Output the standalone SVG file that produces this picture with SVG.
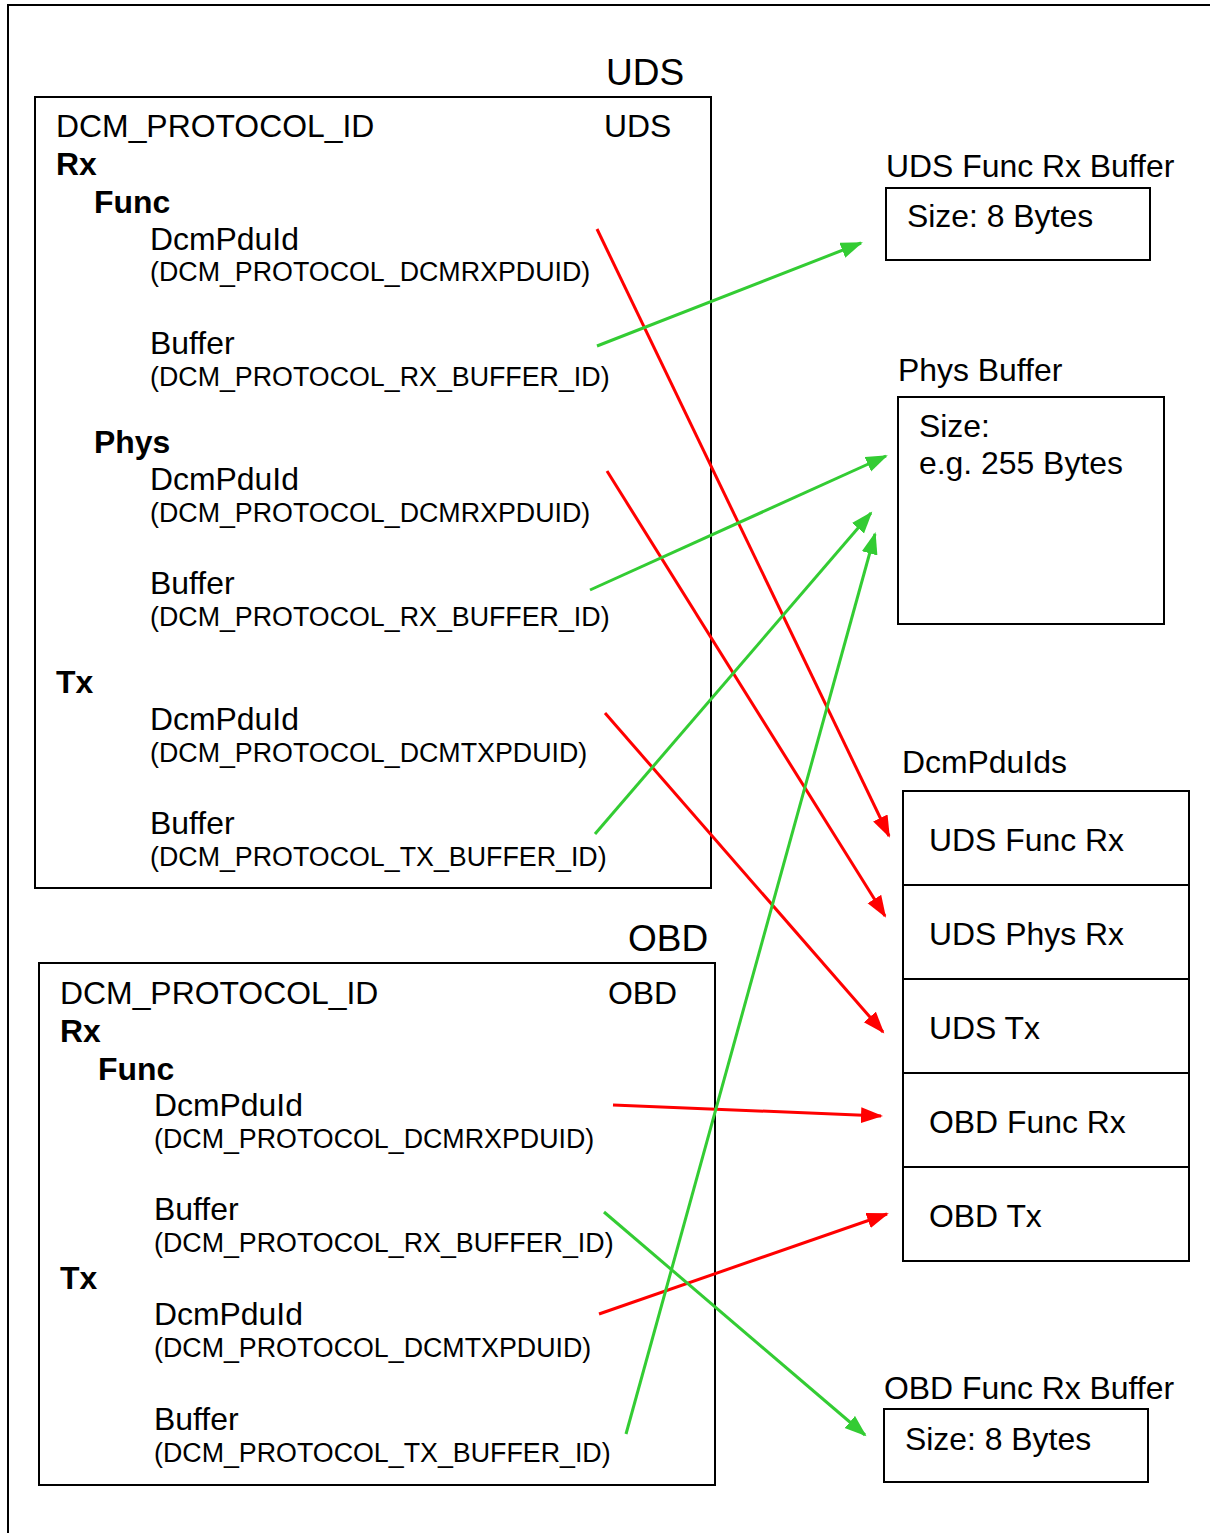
<svg xmlns="http://www.w3.org/2000/svg" width="1210" height="1533" viewBox="0 0 1210 1533">
<style>
text{font-family:"Liberation Sans",Arial,sans-serif;fill:#000}
.t{font-size:31.9px}
.b{font-size:31.9px;font-weight:bold}
.s{font-size:26.8px}
.h{font-size:37px}
.box{fill:#fff;stroke:#000;stroke-width:2}
.red{stroke:#ff0000;stroke-width:3;fill:none;marker-end:url(#ar)}
.grn{stroke:#33cc33;stroke-width:3;fill:none;marker-end:url(#ag)}
</style>
<defs>
<marker id="ar" markerUnits="userSpaceOnUse" markerWidth="24" markerHeight="18" refX="20" refY="8" orient="auto"><path d="M0,0 L22,8 L0,16 z" fill="#ff0000"/></marker>
<marker id="ag" markerUnits="userSpaceOnUse" markerWidth="24" markerHeight="18" refX="20" refY="8" orient="auto"><path d="M0,0 L22,8 L0,16 z" fill="#33cc33"/></marker>
</defs>
<rect width="1210" height="1533" fill="#fff"/>
<path d="M8,1533 V5 H1210" fill="none" stroke="#000" stroke-width="2"/>

<g id="uds">
<text class="h" x="606" y="85">UDS</text>
<rect class="box" x="35" y="97" width="676" height="791"/>
<text class="t" x="56" y="137">DCM_PROTOCOL_ID</text>
<text class="t" x="604" y="137">UDS</text>
<text class="b" x="56" y="175">Rx</text>
<text class="b" x="94" y="213">Func</text>
<text class="t" x="150" y="250">DcmPduId</text>
<text class="s" x="150" y="281">(DCM_PROTOCOL_DCMRXPDUID)</text>
<text class="t" x="150" y="354">Buffer</text>
<text class="s" x="150" y="386">(DCM_PROTOCOL_RX_BUFFER_ID)</text>
<text class="b" x="94" y="453">Phys</text>
<text class="t" x="150" y="490">DcmPduId</text>
<text class="s" x="150" y="522">(DCM_PROTOCOL_DCMRXPDUID)</text>
<text class="t" x="150" y="594">Buffer</text>
<text class="s" x="150" y="626">(DCM_PROTOCOL_RX_BUFFER_ID)</text>
<text class="b" x="56" y="693">Tx</text>
<text class="t" x="150" y="730">DcmPduId</text>
<text class="s" x="150" y="762">(DCM_PROTOCOL_DCMTXPDUID)</text>
<text class="t" x="150" y="834">Buffer</text>
<text class="s" x="150" y="866">(DCM_PROTOCOL_TX_BUFFER_ID)</text>
</g>

<g id="obd">
<text class="h" x="628" y="951">OBD</text>
<rect class="box" x="39" y="963" width="676" height="522"/>
<text class="t" x="60" y="1004">DCM_PROTOCOL_ID</text>
<text class="t" x="608" y="1004">OBD</text>
<text class="b" x="60" y="1042">Rx</text>
<text class="b" x="98" y="1080">Func</text>
<text class="t" x="154" y="1116">DcmPduId</text>
<text class="s" x="154" y="1148">(DCM_PROTOCOL_DCMRXPDUID)</text>
<text class="t" x="154" y="1220">Buffer</text>
<text class="s" x="154" y="1252">(DCM_PROTOCOL_RX_BUFFER_ID)</text>
<text class="b" x="60" y="1289">Tx</text>
<text class="t" x="154" y="1325">DcmPduId</text>
<text class="s" x="154" y="1357">(DCM_PROTOCOL_DCMTXPDUID)</text>
<text class="t" x="154" y="1430">Buffer</text>
<text class="s" x="154" y="1462">(DCM_PROTOCOL_TX_BUFFER_ID)</text>
</g>

<g id="uds-func-rx-buffer">
<text class="t" x="886" y="177">UDS Func Rx Buffer</text>
<rect class="box" x="886" y="188" width="264" height="72"/>
<text class="t" x="907" y="227">Size: 8 Bytes</text>
</g>

<g id="phys-buffer">
<text class="t" x="898" y="381">Phys Buffer</text>
<rect class="box" x="898" y="397" width="266" height="227"/>
<text class="t" x="919" y="437">Size:</text>
<text class="t" x="919" y="474">e.g. 255 Bytes</text>
</g>

<g id="dcmpduids">
<text class="t" x="902" y="773">DcmPduIds</text>
<rect class="box" x="903" y="791" width="286" height="470"/>
<path d="M903,885 H1189 M903,979 H1189 M903,1073 H1189 M903,1167 H1189" stroke="#000" stroke-width="2"/>
<text class="t" x="929" y="851">UDS Func Rx</text>
<text class="t" x="929" y="945">UDS Phys Rx</text>
<text class="t" x="929" y="1039">UDS Tx</text>
<text class="t" x="929" y="1133">OBD Func Rx</text>
<text class="t" x="929" y="1227">OBD Tx</text>
</g>

<g id="obd-func-rx-buffer">
<text class="t" x="884" y="1399">OBD Func Rx Buffer</text>
<rect class="box" x="884" y="1409" width="264" height="73"/>
<text class="t" x="905" y="1450">Size: 8 Bytes</text>
</g>

<g id="connectors">
<line class="red" x1="597" y1="229" x2="889" y2="836"/>
<line class="red" x1="607" y1="471" x2="885" y2="916"/>
<line class="red" x1="605" y1="713" x2="883" y2="1032"/>
<line class="red" x1="613" y1="1105" x2="881" y2="1116"/>
<line class="red" x1="599" y1="1314" x2="887" y2="1214"/>
<line class="grn" x1="597" y1="346" x2="861" y2="243"/>
<line class="grn" x1="590" y1="590" x2="886" y2="456"/>
<line class="grn" x1="595" y1="834" x2="871" y2="513"/>
<line class="grn" x1="626" y1="1434" x2="875" y2="534"/>
<line class="grn" x1="604" y1="1212" x2="865" y2="1435"/>
</g>
</svg>
